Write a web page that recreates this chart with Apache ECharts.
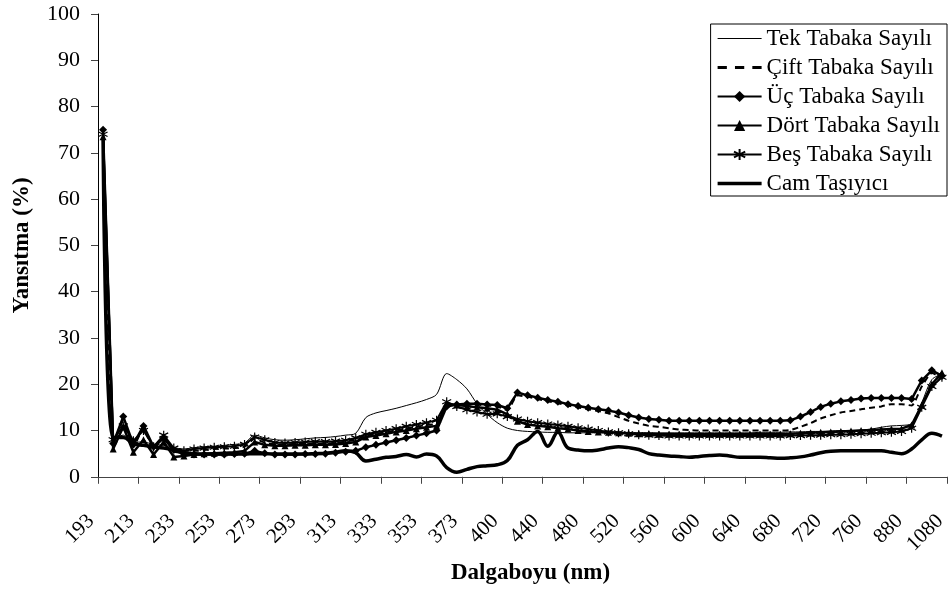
<!DOCTYPE html>
<html>
<head>
<meta charset="utf-8">
<script src="https://cdn.jsdelivr.net/npm/echarts@6/dist/echarts.min.js"></script>
<style>
  html, body { margin: 0; padding: 0; background: #fff; }
  #chart { width: 950px; height: 590px; }
</style>
</head>
<body>
<div id="chart"></div>
<script>
// Wavelength samples (nm) along the category axis
const wavelengths = [
  193, 198, 203, 208, 213, 218, 223, 228, 233, 238, 243, 248, 253, 258, 263, 268,
  273, 278, 283, 288, 293, 298, 303, 308, 313, 318, 323, 328, 333, 338, 343, 348,
  353, 358, 363, 368, 373, 378, 385, 392, 400, 410, 420, 430, 440, 450, 460, 470,
  480, 490, 500, 510, 520, 530, 540, 550, 560, 570, 580, 590, 600, 610, 620, 630,
  640, 650, 660, 670, 680, 690, 700, 710, 720, 730, 740, 750, 760, 790, 820, 850,
  880, 930, 980, 1030
];

// Tick labels shown under the axis, one every four samples
const tickLabels = [
  '193', '213', '233', '253', '273', '293', '313', '333', '353', '373',
  '400', '440', '480', '520', '560', '600', '640', '680', '720', '760', '880', '1080'
];

// Reflectance (%) per film
const tekTabaka = [
  74, 8.0, 9.0, 7.5, 7.5, 7.0, 6.8, 6.3, 6.0, 6.3, 6.5, 6.6, 6.8, 7.0, 7.3, 9.0,
  8.4, 8.0, 7.9, 8.0, 8.2, 8.4, 8.5, 8.7, 9.0, 9.4, 12.8, 13.8, 14.3, 14.8, 15.4, 16.0,
  16.7, 17.8, 22.3, 21.0, 19.0, 15.8, 13.5, 11.7, 10.5, 10.0, 9.8, 9.7, 9.6, 9.6, 9.5, 9.5,
  9.5, 9.5, 9.5, 9.5, 9.5, 9.5, 9.5, 9.5, 9.5, 9.5, 9.5, 9.5, 9.5, 9.5, 9.5, 9.5,
  9.5, 9.6, 9.6, 9.6, 9.7, 9.7, 9.8, 9.8, 9.9, 10.0, 10.0, 10.1, 10.3, 10.7, 11.0, 11.1,
  11.5, 16.0, 21.0, 22.2
];

const ciftTabaka = [
  74, 7.0, 12.0, 6.5, 10.5, 6.0, 8.5, 5.5, 5.2, 5.6, 5.8, 6.0, 6.1, 6.2, 6.5, 8.2,
  7.4, 7.0, 7.0, 7.1, 7.1, 7.2, 7.2, 7.3, 7.6, 8.0, 8.9, 9.3, 9.6, 10.0, 10.4, 10.8,
  11.2, 11.5, 15.5, 15.5, 15.6, 15.6, 15.4, 15.2, 14.4, 17.6, 17.3, 16.8, 16.3, 15.9, 15.4, 15.0,
  14.6, 14.2, 13.7, 12.9, 12.1, 11.5, 11.0, 10.8, 10.5, 10.2, 10.1, 10.0, 10.0, 10.0, 10.0, 10.0,
  10.0, 10.0, 10.0, 10.0, 10.1, 10.8, 11.6, 12.6, 13.3, 13.9, 14.2, 14.6, 14.9, 15.2, 15.7, 15.7,
  15.4, 19.5, 22.4, 21.3
];

const ucTabaka = [
  75, 7.2, 13.0, 7.0, 11.0, 6.5, 8.3, 5.8, 4.9, 4.8, 4.8, 4.8, 4.8, 4.9, 5.0, 5.6,
  5.1, 4.8, 4.8, 4.8, 4.9, 4.9, 5.0, 5.2, 5.4, 5.6, 6.4, 6.9, 7.4, 7.9, 8.4, 8.9,
  9.4, 10.0, 15.2, 15.6, 15.8, 15.8, 15.6, 15.5, 14.8, 18.2, 17.6, 17.1, 16.6, 16.2, 15.7, 15.3,
  14.9, 14.6, 14.3, 13.9, 13.3, 12.8, 12.5, 12.3, 12.1, 12.1, 12.1, 12.1, 12.1, 12.1, 12.1, 12.1,
  12.1, 12.1, 12.1, 12.1, 12.2, 13.0, 14.0, 15.1, 15.8, 16.3, 16.6, 16.9, 17.0, 17.0, 17.0, 17.0,
  16.8, 20.8, 23.0, 21.8
];

const dortTabaka = [
  73.5, 6.0, 10.8, 5.3, 8.0, 4.8, 7.5, 4.3, 4.5, 4.8, 5.0, 5.1, 5.2, 5.3, 5.6, 7.5,
  6.9, 6.7, 6.7, 6.8, 6.8, 6.9, 6.9, 7.0, 7.2, 7.5, 8.6, 8.9, 9.3, 9.7, 10.0, 10.4,
  10.7, 11.0, 15.8, 15.5, 15.3, 15.0, 14.8, 14.5, 13.5, 12.0, 11.3, 11.0, 10.8, 10.5, 10.3, 10.0,
  9.8, 9.7, 9.6, 9.5, 9.4, 9.3, 9.3, 9.2, 9.2, 9.2, 9.2, 9.2, 9.2, 9.2, 9.2, 9.2,
  9.2, 9.2, 9.2, 9.2, 9.3, 9.4, 9.5, 9.6, 9.7, 9.8, 9.9, 10.0, 10.1, 10.2, 10.3, 10.4,
  11.2, 15.5, 20.0, 22.5
];

const besTabaka = [
  74, 8.0, 11.0, 7.8, 10.0, 6.5, 9.0, 6.2, 5.6, 6.0, 6.2, 6.4, 6.5, 6.6, 7.0, 8.6,
  8.0, 7.4, 7.3, 7.4, 7.5, 7.6, 7.6, 7.7, 7.9, 8.4, 9.2, 9.6, 10.0, 10.4, 10.9, 11.3,
  11.7, 12.2, 16.2, 15.2, 14.5, 14.0, 13.5, 13.6, 13.0, 12.5, 12.0, 11.7, 11.4, 11.2, 10.9, 10.6,
  10.3, 10.0, 9.7, 9.5, 9.3, 9.1, 9.0, 8.9, 8.8, 8.8, 8.8, 8.8, 8.8, 8.8, 8.8, 8.8,
  8.8, 8.8, 8.8, 8.8, 8.9, 8.9, 9.0, 9.0, 9.1, 9.1, 9.2, 9.3, 9.4, 9.5, 9.6, 9.8,
  10.5, 15.0, 19.5, 21.5
];

const camTasiyici = [
  73, 8.5, 8.5, 7.2, 6.8, 6.5, 6.2, 5.8, 5.2, 5.0, 4.9, 4.9, 4.9, 4.9, 4.9, 5.0,
  5.0, 4.9, 4.9, 4.9, 4.9, 5.0, 5.1, 5.3, 5.6, 5.2, 3.4, 3.8, 4.2, 4.4, 4.8, 4.3,
  4.9, 4.5, 2.0, 1.0, 1.6, 2.2, 2.4, 2.6, 3.5, 6.8, 8.0, 9.8, 6.6, 9.6, 6.2, 5.8,
  5.6, 5.8, 6.2, 6.5, 6.3, 5.9, 5.0, 4.7, 4.5, 4.4, 4.2, 4.4, 4.6, 4.7, 4.5, 4.2,
  4.2, 4.2, 4.1, 4.0, 4.1, 4.3, 4.7, 5.2, 5.5, 5.6, 5.6, 5.6, 5.6, 5.6, 5.3, 5.0,
  6.0, 8.0, 9.4, 8.8
];

const FONT = '"Liberation Serif", "Times New Roman", serif';
const asterisk = 'path://M5 0 L5 10 M0.7 2.5 L9.3 7.5 M0.7 7.5 L9.3 2.5';

// Legend swatches for the plain-line series
const iconThin = 'path://M0 0h44v1.2H0z';
const iconDashed = 'path://M0 0h8v2.5H0z M15 0h8v2.5h-8z M30 0h8v2.5h-8z';
const iconThick = 'path://M0 0h44v3.5H0z';

const chart = echarts.init(document.getElementById('chart'), null, { renderer: 'canvas' });

chart.setOption({
  animation: false,
  backgroundColor: '#ffffff',
  textStyle: { fontFamily: FONT, color: '#000' },
  grid: { left: 98, right: 3, top: 14, bottom: 113, containLabel: false },
  legend: {
    orient: 'vertical',
    right: 3,
    top: 24,
    padding: [3, 7, 1, 6],
    itemGap: 6,
    itemWidth: 44,
    itemHeight: 14,
    itemTextGap: 14,
    borderColor: '#000',
    borderWidth: 1,
    backgroundColor: '#fff',
    textStyle: { fontFamily: FONT, fontSize: 23, color: '#000', lineHeight: 22 },
    data: [
      { name: 'Tek Tabaka Sayılı', icon: iconThin },
      { name: 'Çift Tabaka Sayılı', icon: iconDashed },
      { name: 'Üç Tabaka Sayılı' },
      { name: 'Dört Tabaka Sayılı' },
      { name: 'Beş Tabaka Sayılı' },
      { name: 'Cam Taşıyıcı', icon: iconThick }
    ]
  },
  xAxis: [
    {
      // sample axis: carries the data points
      type: 'category',
      data: wavelengths,
      boundaryGap: true,
      position: 'bottom',
      axisLine: { show: true, lineStyle: { color: '#444', width: 1.2 } },
      axisTick: { show: false },
      axisLabel: { show: false },
      splitLine: { show: false }
    },
    {
      // label axis: draws the wavelength ticks
      type: 'category',
      data: tickLabels,
      boundaryGap: false,
      position: 'bottom',
      axisLine: { show: false },
      axisTick: { show: true, interval: 0, length: 7, lineStyle: { color: '#444', width: 1 } },
      axisLabel: {
        interval: 0, rotate: 45, margin: 34, padding: [0, 10, 0, 0],
        fontFamily: FONT, fontSize: 21, color: '#000'
      },
      splitLine: { show: false },
      name: 'Dalgaboyu (nm)',
      nameLocation: 'middle',
      nameGap: 82,
      nameTextStyle: { fontFamily: FONT, fontSize: 23, fontWeight: 'bold', color: '#000', padding: [0, 0, 0, 16] }
    }
  ],
  yAxis: {
    type: 'value',
    min: 0,
    max: 100,
    interval: 10,
    axisLine: { show: true, lineStyle: { color: '#000', width: 1 } },
    axisTick: { show: true, length: 7, lineStyle: { color: '#444' } },
    axisLabel: { fontFamily: FONT, fontSize: 22, color: '#000', margin: 18 },
    splitLine: { show: false },
    name: 'Yansıtma (%)',
    nameLocation: 'middle',
    nameGap: 64,
    nameRotate: 90,
    nameTextStyle: { fontFamily: FONT, fontSize: 23, fontWeight: 'bold', color: '#000' }
  },
  series: [
    {
      name: 'Tek Tabaka Sayılı', type: 'line', xAxisIndex: 0, data: tekTabaka,
      smooth: 0.3, symbol: 'none',
      lineStyle: { color: '#000', width: 1 },
      itemStyle: { color: '#000' }, z: 2
    },
    {
      name: 'Çift Tabaka Sayılı', type: 'line', xAxisIndex: 0, data: ciftTabaka,
      smooth: 0.2, symbol: 'none',
      lineStyle: { color: '#000', width: 2, type: [6, 4] },
      itemStyle: { color: '#000' }, z: 3
    },
    {
      name: 'Üç Tabaka Sayılı', type: 'line', xAxisIndex: 0, data: ucTabaka,
      symbol: 'diamond', symbolSize: 8, showAllSymbol: true,
      lineStyle: { color: '#000', width: 2.5 },
      itemStyle: { color: '#000' }, z: 4
    },
    {
      name: 'Dört Tabaka Sayılı', type: 'line', xAxisIndex: 0, data: dortTabaka,
      symbol: 'triangle', symbolSize: 7, showAllSymbol: true,
      lineStyle: { color: '#000', width: 2.5 },
      itemStyle: { color: '#000' }, z: 4
    },
    {
      name: 'Beş Tabaka Sayılı', type: 'line', xAxisIndex: 0, data: besTabaka,
      symbol: asterisk, symbolSize: 9, showAllSymbol: true,
      lineStyle: { color: '#000', width: 2 },
      itemStyle: { color: '#000', borderColor: '#000', borderWidth: 1.2 }, z: 4
    },
    {
      name: 'Cam Taşıyıcı', type: 'line', xAxisIndex: 0, data: camTasiyici,
      smooth: 0.4, symbol: 'none',
      lineStyle: { color: '#000', width: 3.5 },
      itemStyle: { color: '#000' }, z: 5
    }
  ]
});
</script>
</body>
</html>
